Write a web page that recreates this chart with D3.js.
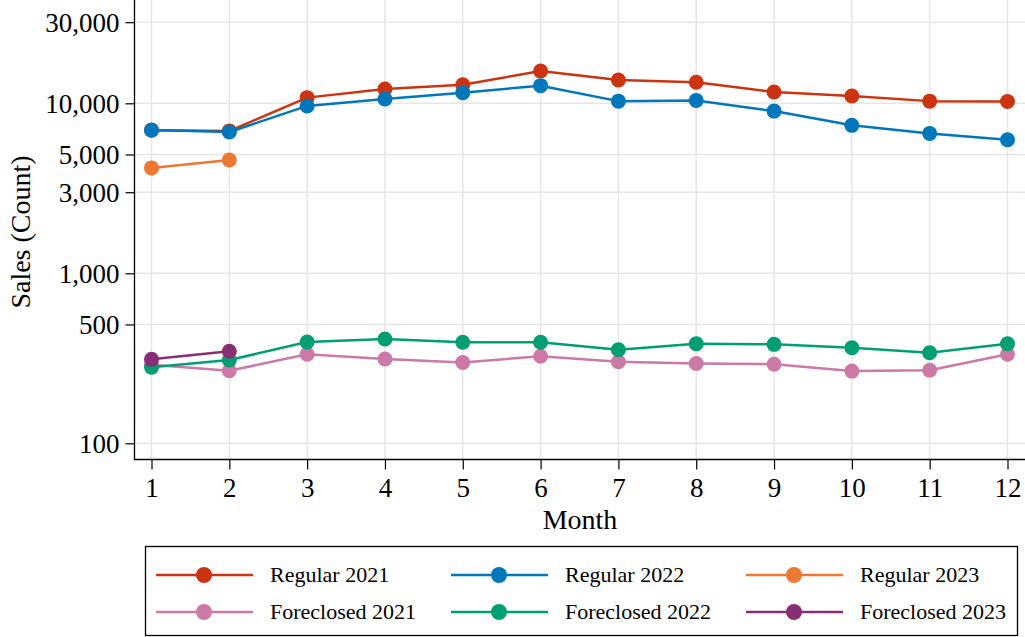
<!DOCTYPE html>
<html>
<head>
<meta charset="utf-8">
<script src="https://cdn.jsdelivr.net/npm/d3@7"></script>
<style>
  html, body { margin: 0; padding: 0; background: #fff; }
  svg { display: block; }
  text { font-family: "Liberation Serif", "Times New Roman", serif; fill: #000; }
</style>
</head>
<body>
<svg id="chart" width="1025" height="637"></svg>
<script>
// Monthly sales counts by sale type and year
const months = [1, 2, 3, 4, 5, 6, 7, 8, 9, 10, 11, 12];

const regular2021 = [6950, 6880, 10800, 12150, 12850, 15500, 13700, 13300, 11650, 11050, 10300, 10250];
const regular2022 = [6960, 6780, 9650, 10600, 11550, 12700, 10300, 10400, 9000, 7420, 6650, 6100];
const regular2023 = [4170, 4640];
const foreclosed2021 = [290, 267, 334, 313, 299, 325, 302, 295, 292, 266, 269, 334];
const foreclosed2022 = [280, 309, 394, 411, 393, 393, 355, 385, 382, 365, 341, 385];
const foreclosed2023 = [312, 348];

const yTickValues = [100, 500, 1000, 3000, 5000, 10000, 30000];

const seriesNames = ["Regular 2021", "Regular 2022", "Regular 2023",
                     "Foreclosed 2021", "Foreclosed 2022", "Foreclosed 2023"];
const seriesColors = ["#CC3311", "#0077BB", "#EE7733", "#CC79A7", "#009E73", "#882E72"];
const seriesValues = [regular2021, regular2022, regular2023,
                      foreclosed2021, foreclosed2022, foreclosed2023];

const svg = d3.select("#chart");

const axisX = 134.5, axisY = 459.5, plotRight = 1025, plotTop = -5;

const x = d3.scaleLinear().domain([1, 12]).range([151.5, 1007.5]);
const y = d3.scaleLog().domain([100, 30000]).range([443.3, 22.2]);

// grid
const grid = svg.append("g");
grid.selectAll("line.h").data(yTickValues).join("line")
  .attr("x1", axisX).attr("x2", plotRight)
  .attr("y1", d => y(d)).attr("y2", d => y(d))
  .attr("stroke", "#e6e6e6").attr("stroke-width", 1.5);
grid.selectAll("line.v").data(months).join("line")
  .attr("x1", d => x(d)).attr("x2", d => x(d))
  .attr("y1", plotTop).attr("y2", axisY)
  .attr("stroke", "#e6e6e6").attr("stroke-width", 1.5);

// y axis
const yAxis = d3.axisLeft(y).tickValues(yTickValues)
  .tickFormat(d3.format(",")).tickSize(9).tickPadding(6);
const gy = svg.append("g").attr("transform", `translate(${axisX},0)`).call(yAxis);
gy.select(".domain").remove();
gy.selectAll(".tick line").attr("stroke", "#000").attr("stroke-width", 1.2);
gy.selectAll(".tick text").attr("font-size", 27)
  .attr("font-family", "Liberation Serif, serif").attr("dy", "0.34em");
svg.append("line").attr("x1", axisX).attr("x2", axisX)
  .attr("y1", plotTop).attr("y2", axisY)
  .attr("stroke", "#000").attr("stroke-width", 1.3);

// x axis
const xAxis = d3.axisBottom(x).tickValues(months)
  .tickFormat(d3.format("d")).tickSize(10).tickPadding(8);
const gx = svg.append("g").attr("transform", `translate(0,${axisY})`).call(xAxis);
gx.select(".domain").remove();
gx.selectAll(".tick line").attr("stroke", "#000").attr("stroke-width", 1.2);
gx.selectAll(".tick text").attr("font-size", 27)
  .attr("font-family", "Liberation Serif, serif");
svg.append("line").attr("x1", axisX - 0.6).attr("x2", plotRight)
  .attr("y1", axisY).attr("y2", axisY)
  .attr("stroke", "#000").attr("stroke-width", 1.3);

// axis titles
svg.append("text").attr("x", 580).attr("y", 529)
  .attr("text-anchor", "middle").attr("font-size", 28).text("Month");
svg.append("text")
  .attr("transform", `translate(30,232) rotate(-90)`)
  .attr("text-anchor", "middle").attr("font-size", 28).text("Sales (Count)");

// series: each line with its markers, later series on top
const line = d3.line().x((d, i) => x(months[i])).y(d => y(d));
seriesValues.forEach((vals, k) => {
  const g = svg.append("g");
  g.append("path").datum(vals)
    .attr("d", line).attr("fill", "none")
    .attr("stroke", seriesColors[k]).attr("stroke-width", 2.5)
    .attr("stroke-linejoin", "round");
  g.selectAll("circle").data(vals).join("circle")
    .attr("cx", (d, i) => x(months[i])).attr("cy", d => y(d))
    .attr("r", 7.5).attr("fill", seriesColors[k]);
});

// legend
const legend = svg.append("g");
legend.append("rect").attr("x", 145.5).attr("y", 546.5)
  .attr("width", 872).attr("height", 89)
  .attr("fill", "#fff").attr("stroke", "#000").attr("stroke-width", 1.3);
const colX = [156, 451, 746];
const rowY = [575, 612];
seriesNames.forEach((name, k) => {
  const cx = colX[k % 3], cy = rowY[Math.floor(k / 3)];
  legend.append("line").attr("x1", cx).attr("x2", cx + 97)
    .attr("y1", cy).attr("y2", cy)
    .attr("stroke", seriesColors[k]).attr("stroke-width", 2.5);
  legend.append("circle").attr("cx", cx + 48).attr("cy", cy).attr("r", 8)
    .attr("fill", seriesColors[k]);
  legend.append("text").attr("x", cx + 114).attr("y", cy).attr("dy", "0.34em")
    .attr("font-size", 22).text(name);
});
</script>
</body>
</html>
